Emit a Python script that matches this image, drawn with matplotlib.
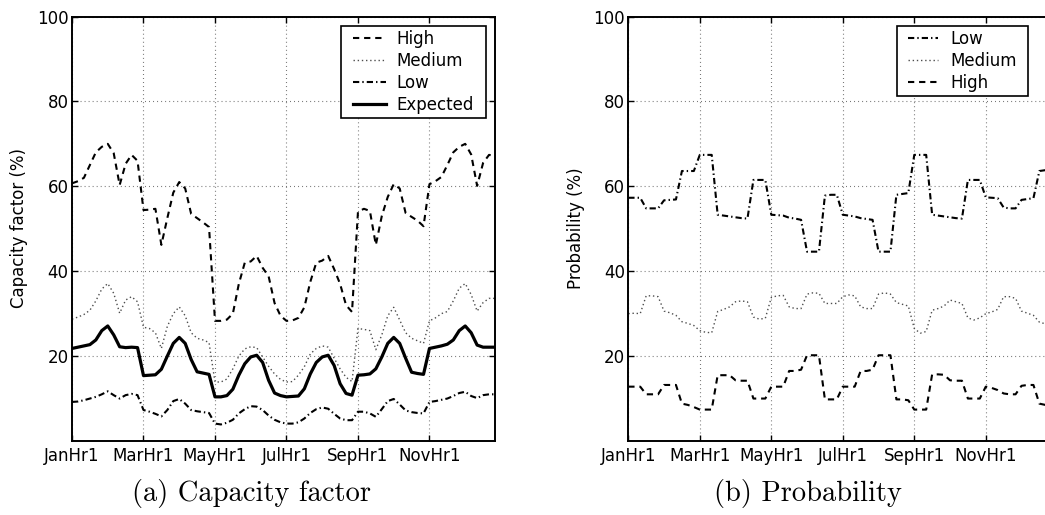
import numpy as np
import matplotlib
matplotlib.use("Agg")
import matplotlib.pyplot as plt
from matplotlib.path import Path

plt.rcParams['font.family'] = ['DejaVu Sans']
plt.rcParams['lines.scale_dashes'] = False

# ---------------- data ----------------
TICK_LABELS = ['JanHr1', 'MarHr1', 'MayHr1', 'JulHr1', 'SepHr1', 'NovHr1']

# (a) capacity factor (%)
CF_HIGH = [60.7, 61.2, 62.0, 65.0, 68.0, 69.3, 70.0, 67.8, 60.3, 65.3, 67.4, 66.0,
           54.4, 54.5, 54.7, 46.2, 52.5, 58.5, 61.0, 59.5, 53.5, 52.5, 51.5, 50.4,
           28.3, 28.3, 28.6, 30.0, 37.0, 42.0, 42.3, 43.6, 40.8, 38.8, 32.5, 29.5,
           28.3, 28.4, 29.0, 31.5, 37.5, 42.0, 42.5, 43.6, 40.5, 37.0, 32.0, 30.4,
           54.0, 54.7, 54.2, 46.2, 53.0, 57.5, 60.5, 59.5, 53.7, 52.8, 51.9, 50.6,
           60.5, 61.2, 62.2, 65.0, 68.0, 69.3, 70.0, 67.5, 60.1, 65.5, 67.4, 67.2]
CF_MEDIUM = [28.7, 29.2, 29.8, 30.8, 33.0, 35.8, 37.1, 34.8, 30.1, 33.2, 34.0, 32.8,
             26.8, 26.5, 25.5, 21.8, 27.0, 30.0, 31.6, 29.5, 25.5, 24.2, 23.8, 23.2,
             13.9, 13.9, 14.6, 17.0, 20.0, 21.7, 22.2, 22.0, 19.8, 17.6, 15.8, 14.5,
             13.9, 14.0, 15.5, 17.5, 20.5, 21.8, 22.4, 22.1, 19.5, 17.0, 15.0, 14.0,
             26.5, 26.3, 26.0, 21.5, 25.0, 29.5, 31.5, 28.5, 25.5, 24.2, 23.6, 23.0,
             28.3, 29.0, 30.0, 30.5, 33.0, 36.0, 37.1, 34.5, 30.6, 32.6, 33.6, 33.6]
CF_LOW = [9.2, 9.3, 9.6, 10.0, 10.4, 11.0, 11.7, 10.8, 10.0, 10.8, 11.1, 10.8,
          7.3, 6.9, 6.4, 5.8, 7.3, 9.4, 9.9, 8.8, 7.3, 7.0, 6.8, 6.6,
          4.1, 3.9, 4.3, 5.0, 6.5, 7.5, 8.2, 8.1, 7.3, 6.0, 5.0, 4.4,
          4.1, 4.1, 4.4, 5.3, 6.6, 7.5, 7.9, 7.6, 6.4, 5.3, 4.9, 4.9,
          6.9, 6.9, 6.5, 5.7, 7.5, 9.4, 9.9, 8.6, 7.2, 6.8, 6.6, 6.5,
          9.2, 9.4, 9.7, 10.0, 10.6, 11.3, 11.6, 10.6, 10.1, 10.8, 11.0, 11.0]
CF_EXPECTED = [21.8, 22.1, 22.4, 22.7, 23.8, 26.0, 27.1, 25.0, 22.2, 22.0, 22.1, 22.0,
               15.4, 15.5, 15.6, 16.9, 20.0, 23.0, 24.4, 23.0, 19.2, 16.3, 16.0, 15.7,
               10.4, 10.4, 10.7, 12.2, 15.5, 18.2, 19.8, 20.2, 18.5, 14.3, 11.3, 10.7,
               10.4, 10.5, 10.6, 12.3, 15.8, 18.5, 19.8, 20.2, 17.8, 13.5, 11.2, 10.8,
               15.5, 15.6, 15.8, 17.0, 19.8, 23.0, 24.4, 23.0, 19.5, 16.2, 15.9, 15.7,
               21.8, 22.1, 22.4, 22.8, 23.8, 26.0, 27.1, 25.5, 22.6, 22.1, 22.1, 22.1]

# (b) probability (%)
P_LOW = [57.3, 57.3, 57.3, 54.8, 54.8, 54.8, 56.7, 56.8, 56.9, 63.6, 63.6, 63.6,
         67.4, 67.4, 67.4, 53.3, 53.1, 52.9, 52.7, 52.5, 52.4, 61.5, 61.5, 61.5,
         53.3, 53.2, 53.1, 52.6, 52.4, 52.1, 44.6, 44.6, 44.6, 57.8, 58.0, 58.0,
         53.3, 53.1, 52.9, 52.5, 52.3, 52.1, 44.6, 44.6, 44.6, 58.0, 58.2, 58.4,
         67.4, 67.4, 67.4, 53.3, 53.1, 52.9, 52.7, 52.5, 52.4, 61.5, 61.5, 61.5,
         57.4, 57.3, 57.2, 55.0, 54.8, 54.8, 56.8, 57.0, 57.2, 63.6, 63.8, 63.9]
P_MEDIUM = [30.0, 30.1, 30.0, 34.2, 34.2, 34.0, 30.6, 30.2, 29.6, 28.1, 27.7, 27.2,
            26.0, 25.6, 25.5, 30.5, 31.0, 31.6, 32.8, 33.0, 32.8, 29.2, 28.7, 28.9,
            33.8, 34.2, 34.3, 31.6, 31.2, 31.2, 34.6, 34.9, 34.8, 32.4, 32.4, 32.4,
            34.0, 34.4, 34.2, 31.6, 31.2, 31.2, 34.6, 34.9, 34.6, 32.6, 32.2, 31.8,
            26.5, 25.4, 25.8, 30.8, 31.2, 31.8, 33.2, 32.8, 32.4, 29.0, 28.5, 29.0,
            30.0, 30.4, 31.0, 34.0, 34.0, 33.6, 30.6, 30.1, 29.6, 28.0, 27.6, 27.2]
P_HIGH = [12.8, 12.8, 12.8, 11.0, 11.0, 11.0, 13.2, 13.2, 13.2, 8.8, 8.5, 8.0,
          7.4, 7.4, 7.4, 15.5, 15.5, 15.5, 14.3, 14.2, 14.2, 10.0, 10.0, 10.0,
          12.8, 12.8, 12.8, 16.5, 16.5, 16.8, 20.2, 20.2, 20.2, 9.8, 9.8, 9.8,
          12.8, 12.8, 12.8, 16.5, 16.5, 16.8, 20.2, 20.2, 20.2, 9.8, 9.8, 9.6,
          7.4, 7.4, 7.4, 15.7, 15.7, 15.6, 14.3, 14.2, 14.2, 10.0, 10.0, 10.0,
          12.8, 12.5, 12.0, 11.2, 11.0, 11.0, 13.0, 13.2, 13.2, 8.8, 8.5, 8.0]

YTICKS = [20, 40, 60, 80, 100]

# ---------------- styles ----------------
DASH = (0, (4.5, 3.5))
DASHDOT = (0, (4.5, 2.2, 1.0, 2.2))
DOT = (0, (1.0, 2.0))
GRID = (0, (0.7, 2.2))

W, H = 1045, 515
fig = plt.figure(figsize=(W / 100, H / 100), dpi=100)


def px_axes(l, t, r, b):
    return fig.add_axes([l / W, 1 - b / H, (r - l) / W, (b - t) / H])


ax1 = px_axes(72, 16.5, 495, 441)
ax2 = px_axes(628.3, 16.5, 1051.3, 441)

x = np.arange(len(CF_HIGH))

ax1.plot(x, CF_HIGH, color='black', lw=1.5, linestyle=DASH, label='High')
ax1.plot(x, CF_MEDIUM, color='0.3', lw=1.0, linestyle=DOT, label='Medium')
ax1.plot(x, CF_LOW, color='black', lw=1.5, linestyle=DASHDOT, label='Low')
ax1.plot(x, CF_EXPECTED, color='black', lw=2.3, linestyle='-', label='Expected')

ax2.plot(x, P_LOW, color='black', lw=1.5, linestyle=DASHDOT, label='Low')
ax2.plot(x, P_MEDIUM, color='0.3', lw=1.0, linestyle=DOT, label='Medium')
ax2.plot(x, P_HIGH, color='black', lw=1.5, linestyle=DASH, label='High')

xt = np.arange(0, len(x), 12)
for ax in (ax1, ax2):
    ax.set_xlim(0, len(x) - 1)
    ax.set_ylim(0, 100)
    ax.set_xticks(xt)
    ax.set_xticklabels(TICK_LABELS)
    ax.set_yticks(YTICKS)
    ax.tick_params(direction='in', top=True, right=True, length=4, width=1,
                   labelsize=12, colors='black')
    ax.tick_params(axis='x', pad=4)
    ax.tick_params(axis='y', pad=2.5)
    ax.grid(True, color='0.45', lw=0.8, linestyle=GRID)
    for s in ax.spines.values():
        s.set_linewidth(1.4)
        s.set_color('black')

fig.text(19.5 / W, 1 - 228 / H, 'Capacity factor (%)', rotation=90,
         ha='center', va='center', fontsize=12)
fig.text(576 / W, 1 - 228 / H, 'Probability (%)', rotation=90,
         ha='center', va='center', fontsize=12)


def make_box(dx):
    # square frame with extra horizontal padding (display pixels)
    def box(x0, y0, width, height, mutation_size):
        xa, xb = x0 - dx, x0 + width + dx
        ya, yb = y0, y0 + height
        return Path([(xa, ya), (xb, ya), (xb, yb), (xa, yb), (xa, ya)],
                    closed=True)
    return box


def add_legend(ax, right_px, dx, handlelength, handletextpad):
    leg = ax.legend(loc='upper right',
                    bbox_to_anchor=((right_px - dx) / W, 1 - 26 / H),
                    bbox_transform=fig.transFigure, borderaxespad=0,
                    fontsize=12, handlelength=handlelength,
                    handletextpad=handletextpad, borderpad=0.24,
                    labelspacing=0.24, fancybox=False, framealpha=1,
                    edgecolor='black')
    fr = leg.get_frame()
    fr.set_linewidth(1.2)
    fr.set_boxstyle(make_box(dx))
    return leg


add_legend(ax1, 485.7, 8, 2.0, 0.6)
add_legend(ax2, 1028.3, 7, 1.8, 0.78)

fig.text(251.7 / W, 1 - 494 / H, '(a) Capacity factor', family='cmr10',
         fontsize=20.5, ha='center', va='center')
fig.text(807.5 / W, 1 - 494 / H, '(b) Probability', family='cmr10',
         fontsize=20.5, ha='center', va='center')

fig.savefig('out.png', dpi=100)
